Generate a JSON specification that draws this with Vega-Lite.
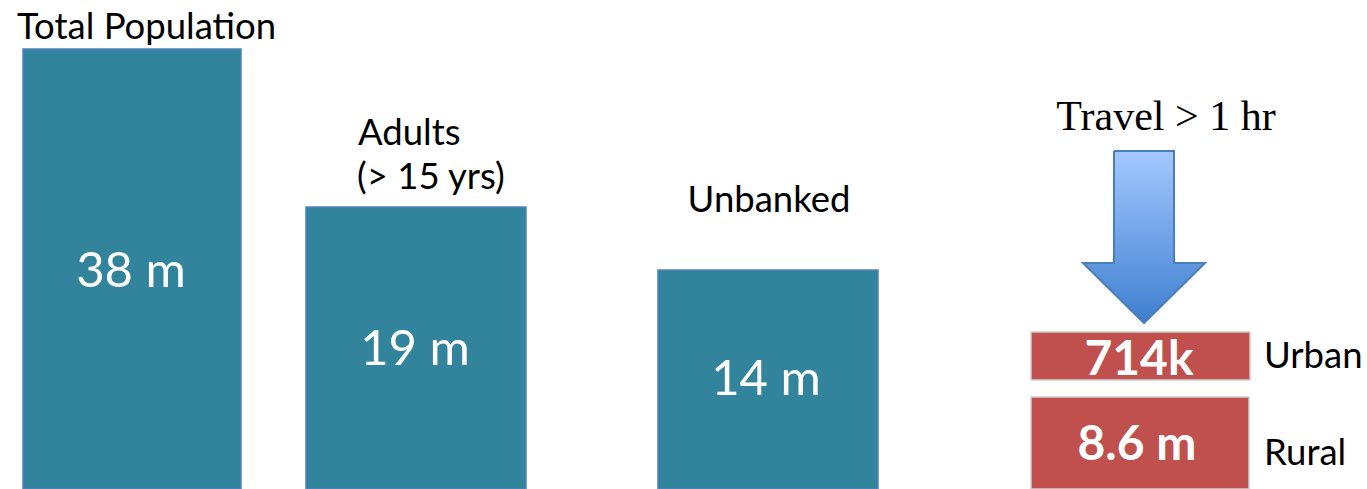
{
  "$schema": "https://vega.github.io/schema/vega-lite/v6.json",
  "width": 1367,
  "height": 489,
  "autosize": "none",
  "padding": 0,
  "background": "white",
  "config": {"view": {"stroke": null}},
  "datasets": {
    "boxes": [
      {"name": "Total Population", "group": "population", "x": 23, "x2": 241, "top": 440, "bottom": 0},
      {"name": "Adults", "group": "population", "x": 306, "x2": 526, "top": 282, "bottom": 0},
      {"name": "Unbanked", "group": "population", "x": 658, "x2": 878, "top": 219, "bottom": 0},
      {"name": "Urban", "group": "travel", "x": 1031, "x2": 1250, "top": 157, "bottom": 109},
      {"name": "Rural", "group": "travel", "x": 1031, "x2": 1249, "top": 92, "bottom": 0}
    ],
    "arrow": [
      {"i": 0, "x": 1114, "y": 338},
      {"i": 1, "x": 1174, "y": 338},
      {"i": 2, "x": 1174, "y": 226},
      {"i": 3, "x": 1205, "y": 226},
      {"i": 4, "x": 1144, "y": 166},
      {"i": 5, "x": 1083, "y": 226},
      {"i": 6, "x": 1114, "y": 226},
      {"i": 7, "x": 1114, "y": 338}
    ],
    "leftLabels": [
      {"text": "Total Population", "x": 17, "y": 450},
      {"text": "Adults", "x": 358, "y": 344},
      {"text": "(> 15 yrs)", "x": 357, "y": 300},
      {"text": "Urban", "x": 1264, "y": 121},
      {"text": "Rural", "x": 1264, "y": 24}
    ],
    "centerLabels": [
      {"text": "Unbanked", "x": 769, "y": 277}
    ],
    "values": [
      {"text": "38 m", "x": 131, "y": 202},
      {"text": "19 m", "x": 415, "y": 124},
      {"text": "14 m", "x": 766, "y": 94}
    ],
    "travelValues": [
      {"text": "714k", "x": 1139, "y": 114},
      {"text": "8.6 m", "x": 1137, "y": 29}
    ],
    "title": [
      {"text": "Travel > 1 hr", "x": 1166, "y": 359}
    ]
  },
  "layer": [
    {
      "data": {"name": "boxes"},
      "mark": {"type": "rect", "strokeWidth": 1.5},
      "encoding": {
        "x": {"field": "x", "type": "quantitative", "scale": {"domain": [0, 1367], "nice": false, "zero": false}, "axis": null},
        "x2": {"field": "x2"},
        "y": {"field": "top", "type": "quantitative", "scale": {"domain": [0, 489], "nice": false}, "axis": null},
        "y2": {"field": "bottom"},
        "fill": {"field": "group", "type": "nominal", "scale": {"domain": ["population", "travel"], "range": ["#31849B", "#C0504D"]}, "legend": null},
        "stroke": {"field": "group", "type": "nominal", "scale": {"domain": ["population", "travel"], "range": ["#4F81BD", "#D0CFCF"]}, "legend": null}
      }
    },
    {
      "data": {"name": "arrow"},
      "mark": {
        "type": "line",
        "stroke": "#4A7EBB",
        "strokeWidth": 2,
        "fill": {"gradient": "linear", "x1": 0, "y1": 0, "x2": 0, "y2": 1, "stops": [{"offset": 0, "color": "#A3C8FF"}, {"offset": 1, "color": "#3F7FCF"}]}
      },
      "encoding": {
        "x": {"field": "x", "type": "quantitative"},
        "y": {"field": "y", "type": "quantitative"},
        "order": {"field": "i", "type": "quantitative"}
      }
    },
    {
      "data": {"name": "leftLabels"},
      "mark": {"type": "text", "font": "Lato", "fontSize": 36.5, "color": "black", "baseline": "alphabetic", "align": "left"},
      "encoding": {
        "x": {"field": "x", "type": "quantitative"},
        "y": {"field": "y", "type": "quantitative"},
        "text": {"field": "text"}
      }
    },
    {
      "data": {"name": "centerLabels"},
      "mark": {"type": "text", "font": "Lato", "fontSize": 36.5, "color": "black", "baseline": "alphabetic", "align": "center"},
      "encoding": {
        "x": {"field": "x", "type": "quantitative"},
        "y": {"field": "y", "type": "quantitative"},
        "text": {"field": "text"}
      }
    },
    {
      "data": {"name": "values"},
      "mark": {"type": "text", "font": "Lato", "fontSize": 49, "color": "white", "baseline": "alphabetic", "align": "center"},
      "encoding": {
        "x": {"field": "x", "type": "quantitative"},
        "y": {"field": "y", "type": "quantitative"},
        "text": {"field": "text"}
      }
    },
    {
      "data": {"name": "travelValues"},
      "mark": {"type": "text", "font": "Lato", "fontSize": 48, "fontWeight": "bold", "color": "white", "baseline": "alphabetic", "align": "center"},
      "encoding": {
        "x": {"field": "x", "type": "quantitative"},
        "y": {"field": "y", "type": "quantitative"},
        "text": {"field": "text"}
      }
    },
    {
      "data": {"name": "title"},
      "mark": {"type": "text", "font": "Liberation Serif", "fontSize": 42, "color": "black", "baseline": "alphabetic", "align": "center"},
      "encoding": {
        "x": {"field": "x", "type": "quantitative"},
        "y": {"field": "y", "type": "quantitative"},
        "text": {"field": "text"}
      }
    }
  ]
}
